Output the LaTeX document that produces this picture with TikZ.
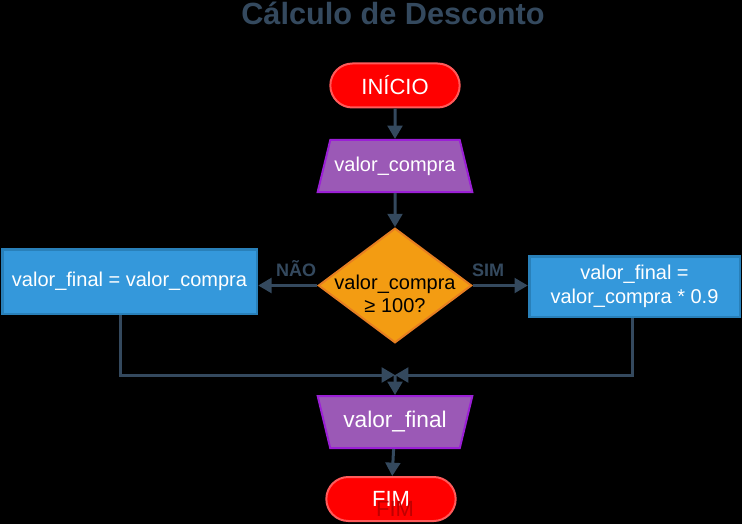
\documentclass[tikz,border=0pt]{standalone}
\usepackage{fontspec}
\setmainfont{Liberation Sans}
\usetikzlibrary{shapes.geometric,shapes.misc,arrows.meta}

\definecolor{ardosia}{HTML}{34495E}
\definecolor{vermelho}{HTML}{FF0000}
\definecolor{vermelhoborda}{HTML}{FF5A5A}
\definecolor{roxo}{HTML}{9B59B6}
\definecolor{roxoborda}{HTML}{9B1FD6}
\definecolor{laranja}{HTML}{F39C12}
\definecolor{laranjaborda}{HTML}{E67E22}
\definecolor{azul}{HTML}{3498DB}
\definecolor{azulborda}{HTML}{2980B9}

\tikzset{
  terminal/.style={rounded rectangle, fill=vermelho, draw=vermelhoborda, line width=1.5pt,
    text=white, font=\fontsize{16.5}{19}\selectfont, minimum width=97pt, minimum height=33pt, inner sep=0pt},
  entrada/.style={trapezium, trapezium left angle=76, trapezium right angle=76, trapezium stretches body,
    fill=roxo, draw=roxoborda, line width=1.5pt, text=white, font=\fontsize{15}{18}\selectfont,
    minimum width=116pt, minimum height=39pt, inner xsep=0pt, inner ysep=12pt},
  saida/.style={entrada, trapezium left angle=104, trapezium right angle=104,
    font=\fontsize{17}{20}\selectfont, inner ysep=11pt},
  decisao/.style={diamond, fill=laranja, draw=laranjaborda, line width=1.5pt,
    minimum width=115pt, minimum height=86pt, inner sep=0pt},
  processo/.style={rectangle, fill=azul, draw=azulborda, line width=2pt, text=white,
    font=\fontsize{15}{18}\selectfont, align=center, inner sep=0pt},
  seta/.style={draw=ardosia, line width=2.25pt, -{Triangle[length=10pt,width=11pt]}},
  rotulo/.style={text=ardosia, font=\bfseries\fontsize{13.5}{15}\selectfont}
}

\begin{document}
\begin{tikzpicture}[x=0.75pt, y=-0.75pt]
  % fundo
  \fill[black] (0,0) rectangle (742,524);
  \useasboundingbox (0,0) rectangle (742,524);

  % titulo
  \node[text=ardosia, font=\bfseries\fontsize{23}{26}\selectfont] (titulo) at (393,13) {Cálculo de Desconto};

  % blocos
  \node[terminal] (inicio) at (395,85.5) {INÍCIO};
  \node[entrada] (leitura) at (395,166) {valor\_compra};
  \node[decisao] (teste) at (395,285.5) {};
  \node[text=black, font=\fontsize{15}{17}\selectfont, align=center] (testetexto) at (395,294) {valor\_compra\\≥ 100?};
  \node[processo, minimum width=191pt, minimum height=48.5pt] (semdesc) at (129.5,281.5) {valor\_final = valor\_compra};
  \node[processo, minimum width=158pt, minimum height=45.5pt] (comdesc) at (634.5,286.5) {valor\_final =\\valor\_compra * 0.9};
  \node[saida] (escrita) at (395,422) {valor\_final};
  \node[terminal] (fim) at (391,499) {FIM};
  \node[text=vermelho!75!black, font=\fontsize{16.5}{19}\selectfont] (fimsombra) at (395,509) {FIM};

  % ponto de juncao
  \coordinate (juncao) at (395,375);

  % ligacoes
  \draw[seta] (inicio) -- (leitura);
  \draw[seta] (leitura) -- (teste);
  \draw[seta] (teste.west) -- node[rotulo, above=2pt, pos=0.36] {NÃO} (teste.west -| semdesc.east);
  \draw[seta] (teste.east) -- node[rotulo, above=2pt, pos=0.28] {SIM} (teste.east -| comdesc.west);
  \draw[seta] (semdesc.south -| 120,0) |- (juncao);
  \draw[seta] (comdesc.south -| 632,0) |- (juncao);
  \draw[seta] (juncao) -- (escrita);
  \draw[seta] (escrita) -- (fim);
\end{tikzpicture}
\end{document}
